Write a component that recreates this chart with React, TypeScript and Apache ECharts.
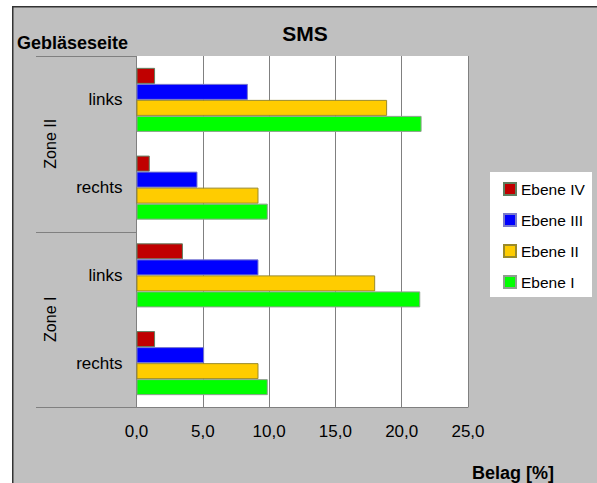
import React, { useEffect, useRef } from "react";
import * as echarts from "echarts";

const zones = ["Zone I", "Zone II"];
const sides = ["rechts", "links"];
const categories = ["Zone I|rechts", "Zone I|links", "Zone II|rechts", "Zone II|links"];
const seriesNames = ["Ebene IV", "Ebene III", "Ebene II", "Ebene I"];
const ebeneIV = [1.4, 3.5, 1.0, 1.4];
const ebeneIII = [5.1, 9.2, 4.6, 8.4];
const ebeneII = [9.2, 18.0, 9.2, 18.9];
const ebeneI = [9.9, 21.4, 9.9, 21.5];
const xTicks = [0, 5, 10, 15, 20, 25];

const colors = ["#c00000", "#0000ff", "#ffcc00", "#00ff00"];
const borders = ["#5f7f5f", "#7a7acc", "#9a8a2a", "#8f9f8f"];
const FONT = "'Liberation Sans', Arial, sans-serif";

export default function App() {
  const ref = useRef<HTMLDivElement>(null);
  useEffect(() => {
    if (!ref.current) return;
    const chart = echarts.init(ref.current, undefined, { renderer: "svg" });
    const values = [ebeneIV, ebeneIII, ebeneII, ebeneI];
    const gl = 136.5, gt = 56, gw = 331.5, gh = 351;
    const bandH = gh / categories.length;
    const zoneCenters = zones.map((_, i) => gt + gh - bandH * (2 * i + 1));
    chart.setOption({
      animation: false,
      backgroundColor: "#c0c0c0",
      textStyle: { fontFamily: FONT },
      grid: {
        left: gl, top: gt, width: gw, height: gh,
        show: true, backgroundColor: "#ffffff", borderWidth: 0,
      },
      xAxis: {
        type: "value", min: xTicks[0], max: xTicks[xTicks.length - 1], interval: 5,
        axisLine: { show: true, lineStyle: { color: "#808080", width: 1 } },
        axisTick: { show: false },
        splitLine: { show: true, lineStyle: { color: "#808080", width: 1 } },
        axisLabel: {
          color: "#000", fontSize: 17, fontFamily: FONT, margin: 16,
          formatter: (v: number) => v.toFixed(1).replace(".", ","),
        },
      },
      yAxis: {
        type: "category", data: categories,
        axisLine: { show: false }, axisTick: { show: false },
        axisLabel: {
          color: "#000", fontSize: 17, fontFamily: FONT, margin: 14,
          formatter: (v: string) => v.split("|")[1],
        },
      },
      legend: {
        orient: "vertical", left: 503, top: 181, padding: 0,
        itemWidth: 12, itemHeight: 12, itemGap: 15, icon: "rect",
        data: seriesNames,
        textStyle: { color: "#000", fontSize: 15.5, fontFamily: FONT, lineHeight: 16 },
      },
      series: seriesNames.map((name, i) => ({
        name, type: "bar", data: values[i],
        barGap: "0%", barCategoryGap: "27%",
        itemStyle: { color: colors[i], borderColor: borders[i], borderWidth: 1 },
      })),
      graphic: [
        { type: "rect", shape: { x: 0, y: 0, width: 597, height: 6 }, style: { fill: "#fff" }, silent: true },
        { type: "rect", shape: { x: 0, y: 0, width: 12, height: 483 }, style: { fill: "#fff" }, silent: true },
        { type: "rect", shape: { x: 12, y: 6, width: 585, height: 1.5 }, style: { fill: "#333" }, silent: true },
        { type: "rect", shape: { x: 12, y: 6, width: 1.5, height: 477 }, style: { fill: "#333" }, silent: true },
        { type: "rect", shape: { x: 490, y: 172, width: 102, height: 125 }, style: { fill: "#fff" }, silent: true, z: -1 },
        ...[gt, gt + gh / 2, gt + gh].map((y) => ({
          type: "line", shape: { x1: 36, y1: Math.round(y) + 0.5, x2: gl, y2: Math.round(y) + 0.5 },
          style: { stroke: "#808080", lineWidth: 1 }, silent: true,
        })),
        ...zones.map((z, i) => ({
          type: "text", x: 50, y: zoneCenters[i], rotation: Math.PI / 2,
          style: { text: z, fontSize: 16, fontFamily: FONT, fill: "#000", align: "center", verticalAlign: "middle" },
          silent: true,
        })),
        {
          type: "text", x: 305, y: 33,
          style: { text: "SMS", fontSize: 21, fontWeight: "bold", fontFamily: FONT, fill: "#000", align: "center", verticalAlign: "middle" },
        },
        {
          type: "text", x: 17, y: 43,
          style: { text: "Gebläseseite", fontSize: 18, fontWeight: "bold", fontFamily: FONT, fill: "#000", align: "left", verticalAlign: "middle" },
        },
        {
          type: "text", x: 513, y: 473,
          style: { text: "Belag [%]", fontSize: 18, fontWeight: "bold", fontFamily: FONT, fill: "#000", align: "center", verticalAlign: "middle" },
        },
      ],
    });
    return () => chart.dispose();
  }, []);
  return <div ref={ref} style={{ position: "absolute", left: 0, top: 0, width: 597, height: 483 }} />;
}
